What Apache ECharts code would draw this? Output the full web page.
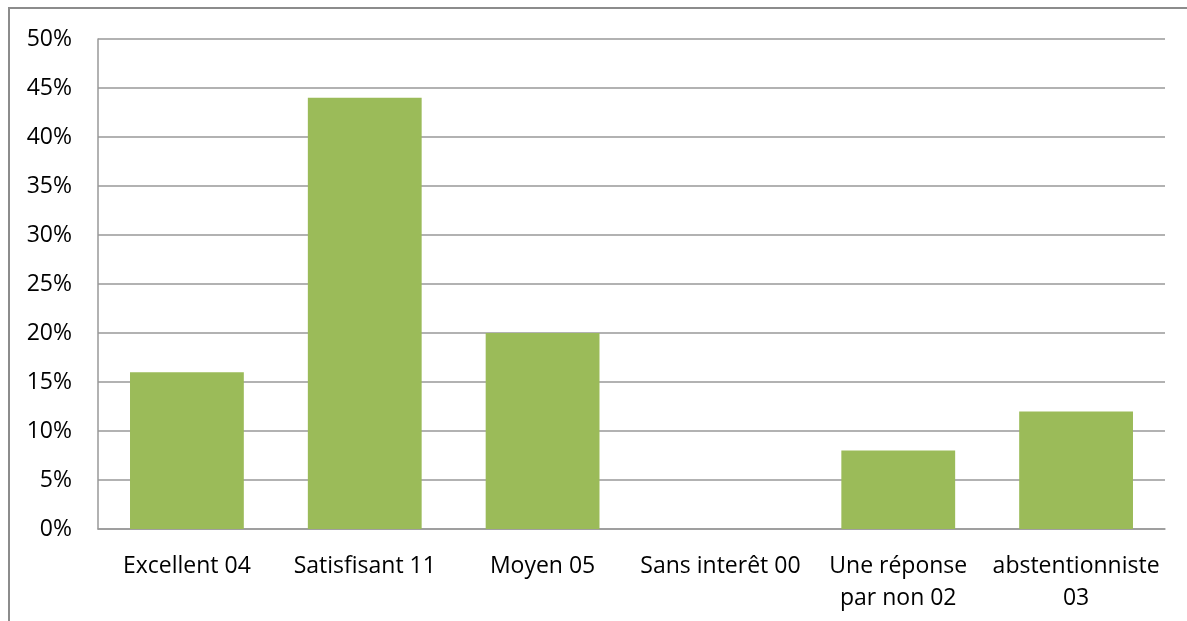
<!DOCTYPE html>
<html>
<head>
<meta charset="utf-8">
<script src="https://cdn.jsdelivr.net/npm/echarts@6/dist/echarts.min.js"></script>
<style>
  html, body { margin: 0; padding: 0; background: #fff; }
  #chart { width: 1187px; height: 621px; }
</style>
</head>
<body>
<div id="chart"></div>
<script>
var categories = ["Excellent 04", "Satisfisant 11", "Moyen 05", "Sans interêt 00", "Une réponse\npar non 02", "abstentionniste\n03"];
var values = [16, 44, 20, 0, 8, 12];

var chart = echarts.init(document.getElementById("chart"));

var option = {
    animation: false,
    textStyle: { fontFamily: "Open Sans", color: "#000" },
    graphic: [
        {
            type: "rect",
            shape: { x: 9, y: 8, width: 1200, height: 700 },
            style: { fill: "none", stroke: "#8c8c8c", lineWidth: 2 }
        }
    ],
    grid: { left: 98, right: 22, top: 39, bottom: 92 },
    xAxis: {
        type: "category",
        data: categories,
        axisLine: { lineStyle: { color: "#999", width: 1.5 } },
        axisTick: { show: false },
        axisLabel: { color: "#000", fontSize: 23, margin: 21, lineHeight: 32, interval: 0 }
    },
    yAxis: {
        type: "value",
        min: 0,
        max: 50,
        interval: 5,
        axisLine: { show: true, lineStyle: { color: "#999", width: 1.5 } },
        axisTick: { show: false },
        axisLabel: { color: "#000", fontSize: 23, margin: 26, formatter: "{value}%" },
        splitLine: { lineStyle: { color: "#999", width: 1.5 } }
    },
    series: [
        {
            type: "bar",
            data: values,
            barCategoryGap: "36%",
            itemStyle: { color: "#9bbb59" }
        }
    ]
};

chart.setOption(option);
</script>
</body>
</html>
